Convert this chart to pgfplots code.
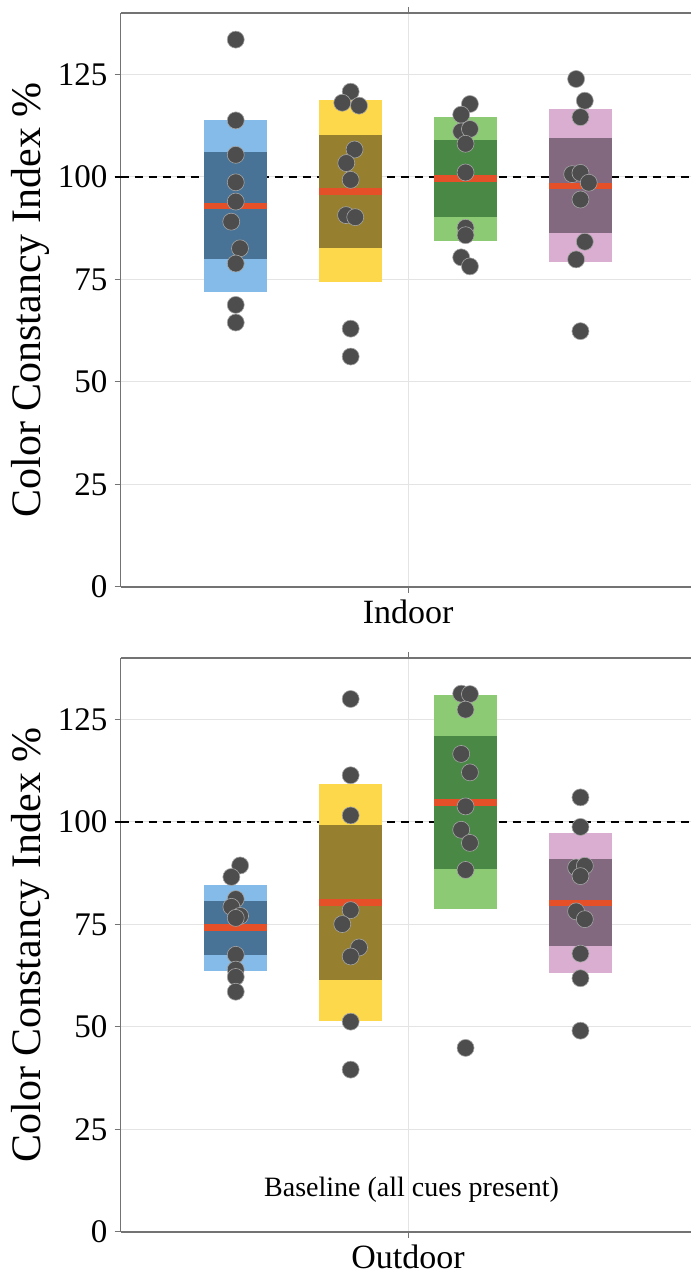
\documentclass[border=0pt]{standalone}
\usepackage{fontspec}
\setmainfont{Liberation Serif}
\usepackage{pgfplots}
\pgfplotsset{compat=1.18}
\usepackage{pgfplotstable}

\definecolor{bluelt}{HTML}{85BBE8}
\definecolor{bluedk}{HTML}{487396}
\definecolor{yellt}{HTML}{FDD84A}
\definecolor{yeldk}{HTML}{968030}
\definecolor{grnlt}{HTML}{8CCB73}
\definecolor{grndk}{HTML}{4A8846}
\definecolor{pinklt}{HTML}{DAAED0}
\definecolor{pinkdk}{HTML}{826980}
\definecolor{medred}{HTML}{E65028}
\definecolor{dotgray}{HTML}{4D4D4D}
\definecolor{gridc}{HTML}{E4E4E4}

\pgfplotstableread{
x y
0 133.5
0 113.8
0 105.4
0 98.7
0 94.0
-0.039 89.1
0.037 82.6
0 78.9
0 68.8
0 64.5
1 120.8
0.927 118.1
1.073 117.4
1.034 106.7
0.962 103.4
1 99.3
0.96 90.7
1.04 90.2
1 63.0
1 56.2
2.038 117.8
1.962 115.2
1.962 111.1
2.038 111.7
2 108.1
2 101.1
2 87.6
2 85.8
1.962 80.4
2.038 78.2
2.962 123.9
3.038 118.6
3 114.6
2.928 100.7
3 101.0
3.072 98.6
3 94.5
3.038 84.2
2.962 79.9
3 62.4
}\indoordots

\pgfplotstableread{
x y
0.038 89.4
-0.038 86.6
0 81.2
-0.038 79.3
0.038 77.1
0 76.6
0 67.6
0 64.0
0 62.2
0 58.6
1 130.0
1 111.4
1 101.6
1 78.5
0.927 75.1
1.073 69.4
1 67.2
1 51.3
1 39.6
1.962 131.3
2.038 131.2
2 127.4
1.962 116.6
2.038 112.1
2 103.8
1.962 98.1
2.038 94.9
2 88.3
2 44.9
3 106.0
3 98.8
2.962 88.9
3.038 89.3
3 86.8
2.962 78.2
3.038 76.3
3 67.9
3 61.9
3 49.1
}\outdoordots

\pgfplotsset{
  cci/.style={
    scale only axis,
    width=285.25pt, height=287pt,
    xmin=-1.003, xmax=3.962,
    ymin=0, ymax=140,
    axis x line*=box, axis y line*=left,
    axis line style={black!55, line width=0.6pt},
    xtick={1.5},
    ytick={0,25,50,75,100,125},
    tick align=outside,
    major tick length=3pt,
    every tick/.style={black!55, line width=0.5pt},
    xmajorgrids, ymajorgrids,
    grid style={gridc, line width=0.5pt},
    /pgf/number format/assume math mode=true,
    yticklabel style={font=\fontsize{16.5}{18}\selectfont},
    xticklabel style={font=\fontsize{17}{19}\selectfont},
    ylabel={Color Constancy Index \%},
    every axis y label/.style={at={(rel axis cs:-0.1578,0.5)}, rotate=90, anchor=center, font=\fontsize{21}{24}\selectfont},
    clip=false,
  },
  dots/.style={only marks, mark=*, mark size=4.25pt, mark options={fill=dotgray, draw=black!35, line width=0.3pt}},
  med/.style={medred, line width=3.3pt},
}

\begin{document}
\begin{tikzpicture}
% ---------- Indoor ----------
\begin{axis}[cci, at={(60.25pt,345.5pt)}, anchor=south west, xticklabels={Indoor},
  extra y ticks={100}, extra y tick labels={}, extra y tick style={grid=none, major tick style={black, line width=1.2pt}}]
\addplot[black, line width=1.3pt, dash pattern=on 4pt off 3pt] coordinates {(-1.003,100) (3.962,100)};
% outer boxes
\addplot[fill=bluelt, draw=none] coordinates {(-0.274,71.9) (0.274,71.9) (0.274,114.0) (-0.274,114.0)} -- cycle;
\addplot[fill=yellt, draw=none] coordinates {(0.726,74.3) (1.274,74.3) (1.274,118.8) (0.726,118.8)} -- cycle;
\addplot[fill=grnlt, draw=none] coordinates {(1.726,84.5) (2.274,84.5) (2.274,114.7) (1.726,114.7)} -- cycle;
\addplot[fill=pinklt, draw=none] coordinates {(2.726,79.2) (3.274,79.2) (3.274,116.6) (2.726,116.6)} -- cycle;
% inner boxes
\addplot[fill=bluedk, draw=none] coordinates {(-0.274,79.9) (0.274,79.9) (0.274,106.0) (-0.274,106.0)} -- cycle;
\addplot[fill=yeldk, draw=none] coordinates {(0.726,82.8) (1.274,82.8) (1.274,110.3) (0.726,110.3)} -- cycle;
\addplot[fill=grndk, draw=none] coordinates {(1.726,90.3) (2.274,90.3) (2.274,109.0) (1.726,109.0)} -- cycle;
\addplot[fill=pinkdk, draw=none] coordinates {(2.726,86.3) (3.274,86.3) (3.274,109.5) (2.726,109.5)} -- cycle;
% medians
\addplot[med] coordinates {(-0.274,92.9) (0.274,92.9)};
\addplot[med] coordinates {(0.726,96.5) (1.274,96.5)};
\addplot[med] coordinates {(1.726,99.6) (2.274,99.6)};
\addplot[med] coordinates {(2.726,97.8) (3.274,97.8)};
\addplot[dots] table[x=x, y=y] {\indoordots};
\end{axis}
% ---------- Outdoor ----------
\begin{axis}[cci, at={(60.25pt,23pt)}, anchor=south west, xticklabels={Outdoor},
  extra y ticks={100}, extra y tick labels={}, extra y tick style={grid=none, major tick style={black, line width=1.2pt}}]
\addplot[black, line width=1.3pt, dash pattern=on 4pt off 3pt] coordinates {(-1.003,100) (3.962,100)};
\addplot[fill=bluelt, draw=none] coordinates {(-0.274,63.6) (0.274,63.6) (0.274,84.7) (-0.274,84.7)} -- cycle;
\addplot[fill=yellt, draw=none] coordinates {(0.726,51.5) (1.274,51.5) (1.274,109.3) (0.726,109.3)} -- cycle;
\addplot[fill=grnlt, draw=none] coordinates {(1.726,78.8) (2.274,78.8) (2.274,130.9) (1.726,130.9)} -- cycle;
\addplot[fill=pinklt, draw=none] coordinates {(2.726,63.2) (3.274,63.2) (3.274,97.4) (2.726,97.4)} -- cycle;
\addplot[fill=bluedk, draw=none] coordinates {(-0.274,67.6) (0.274,67.6) (0.274,80.8) (-0.274,80.8)} -- cycle;
\addplot[fill=yeldk, draw=none] coordinates {(0.726,61.5) (1.274,61.5) (1.274,99.2) (0.726,99.2)} -- cycle;
\addplot[fill=grndk, draw=none] coordinates {(1.726,88.6) (2.274,88.6) (2.274,120.9) (1.726,120.9)} -- cycle;
\addplot[fill=pinkdk, draw=none] coordinates {(2.726,69.7) (3.274,69.7) (3.274,90.9) (2.726,90.9)} -- cycle;
\addplot[med] coordinates {(-0.274,74.3) (0.274,74.3)};
\addplot[med] coordinates {(0.726,80.4) (1.274,80.4)};
\addplot[med] coordinates {(1.726,104.8) (2.274,104.8)};
\addplot[med] coordinates {(2.726,80.2) (3.274,80.2)};
\addplot[dots] table[x=x, y=y] {\outdoordots};
\node[font=\fontsize{14}{16}\selectfont, anchor=center] at (axis cs:1.53,10.2) {Baseline (all cues present)};
\end{axis}
\pgfresetboundingbox
\useasboundingbox (0,0) rectangle (345.5pt,639pt);
\end{tikzpicture}
\end{document}
